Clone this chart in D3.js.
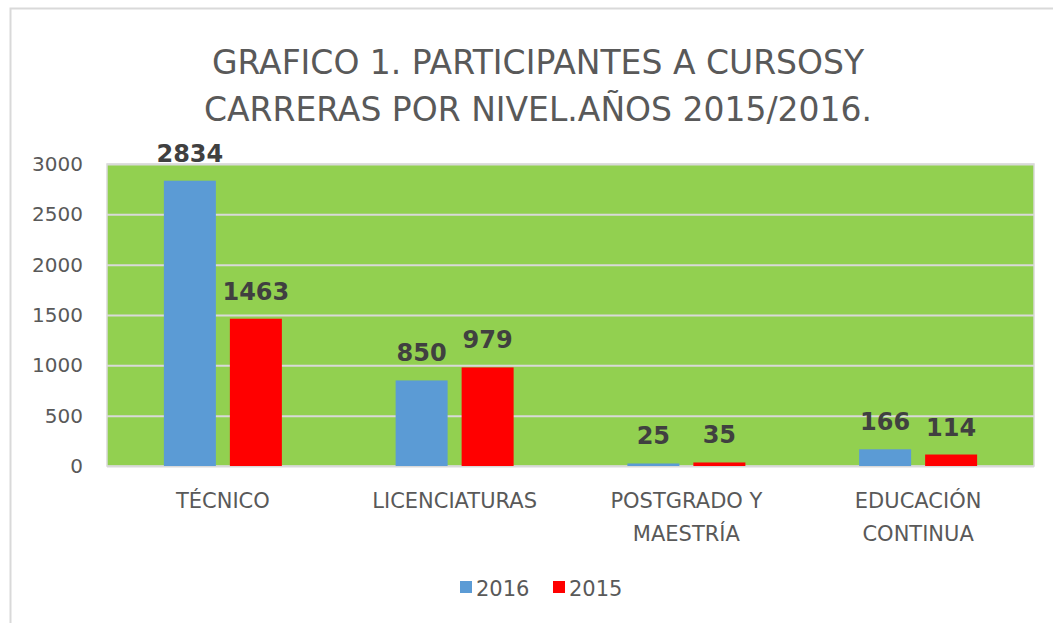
<!DOCTYPE html>
<html lang="es">
<head>
<meta charset="UTF-8">
<title>Grafico 1</title>
<script src="https://d3js.org/d3.v7.min.js"></script>
<style>
  body { margin: 0; background: #fff; }
  text { font-family: "DejaVu Sans", sans-serif; }
</style>
</head>
<body>
<div id="chart"></div>
<script>
// datos del gráfico
const categorias = [["TÉCNICO"], ["LICENCIATURAS"], ["POSTGRADO Y", "MAESTRÍA"], ["EDUCACIÓN", "CONTINUA"]];
const series = ["2016", "2015"];
const valores2016 = [2834, 850, 25, 166];
const valores2015 = [1463, 979, 35, 114];
const ticksY = [0, 500, 1000, 1500, 2000, 2500, 3000];
const colores = ["#5b9bd5", "#ff0000"];
const titulo = ["GRAFICO 1. PARTICIPANTES A CURSOSY", "CARRERAS POR NIVEL.AÑOS 2015/2016."];

const W = 1053, H = 623;
const margin = {top: 164, right: 19, bottom: 157, left: 107};
const width = W - margin.left - margin.right,
      height = H - margin.top - margin.bottom;

const svg = d3.select("#chart").append("svg")
    .attr("width", W).attr("height", H);

// marco del gráfico
svg.append("rect")
    .attr("x", 10.5).attr("y", 8.5)
    .attr("width", 1060).attr("height", 640)
    .attr("fill", "#fff").attr("stroke", "#d9d9d9").attr("stroke-width", 2);

// título
svg.append("text")
    .attr("text-anchor", "middle")
    .attr("fill", "#595959").attr("font-size", 33)
    .selectAll("tspan").data(titulo).enter().append("tspan")
    .attr("x", 538).attr("y", (d, i) => 74 + i * 47)
    .text(d => d);

const g = svg.append("g")
    .attr("transform", "translate(" + margin.left + "," + margin.top + ")");

const idx = d3.range(categorias.length);
const x0 = d3.scaleBand().domain(idx).range([0, width]).paddingInner(0).paddingOuter(0);
const y = d3.scaleLinear().domain([0, 3000]).range([height, 0]);

const barW = 52, gap = 14;
const x1 = d3.scaleOrdinal().domain(series).range([-(barW + gap / 2), gap / 2]);

// área de trazado
g.append("rect")
    .attr("width", width).attr("height", height)
    .attr("fill", "#92d050").attr("stroke", "#d9d9d9").attr("stroke-width", 1.5);

// líneas de cuadrícula
g.append("g")
    .call(d3.axisLeft(y).tickValues(ticksY).tickSize(-width).tickFormat(""))
    .call(a => a.select(".domain").remove())
    .selectAll("line").attr("stroke", "#d9d9d9").attr("stroke-width", 2);

// etiquetas eje Y
g.append("g")
    .call(d3.axisLeft(y).tickValues(ticksY).tickSize(0).tickPadding(24).tickFormat(d3.format("d")))
    .call(a => a.select(".domain").remove())
    .selectAll("text")
    .attr("fill", "#595959").attr("font-size", 20)
    .style("font-family", "'DejaVu Sans', sans-serif");

const datos = [];
idx.forEach(i => {
  datos.push({cat: i, serie: "2016", v: valores2016[i]});
  datos.push({cat: i, serie: "2015", v: valores2015[i]});
});

const cx = i => x0(i) + x0.bandwidth() / 2;

g.selectAll(".bar").data(datos).enter().append("rect")
    .attr("class", "bar")
    .attr("x", d => cx(d.cat) + x1(d.serie))
    .attr("width", barW)
    .attr("y", d => y(d.v))
    .attr("height", d => height - y(d.v))
    .attr("fill", (d) => colores[series.indexOf(d.serie)]);

g.selectAll(".label").data(datos).enter().append("text")
    .attr("class", "label")
    .attr("x", d => cx(d.cat) + x1(d.serie) + barW / 2)
    .attr("y", d => y(d.v) - 19)
    .attr("text-anchor", "middle")
    .attr("font-size", 24).attr("font-weight", "bold")
    .attr("fill", "#404040")
    .text(d => d.v);

// etiquetas de categorías
const catText = g.selectAll(".cat").data(idx).enter().append("text")
    .attr("class", "cat")
    .attr("text-anchor", "middle")
    .attr("fill", "#595959").attr("font-size", 21);
catText.selectAll("tspan").data(i => categorias[i].map(t => ({t, i}))).enter().append("tspan")
    .attr("x", d => cx(d.i))
    .attr("y", (d, j) => height + 42 + j * 33)
    .text(d => d.t);

// leyenda
const leg = svg.append("g").attr("transform", "translate(460,578)");
const legX = [0, 93];
series.forEach((s, i) => {
  leg.append("rect").attr("x", legX[i]).attr("y", 3)
    .attr("width", 12).attr("height", 12).attr("fill", colores[i]);
  leg.append("text").attr("x", legX[i] + 16).attr("y", 18)
    .attr("fill", "#595959").attr("font-size", 21).text(s);
});
</script>
</body>
</html>
